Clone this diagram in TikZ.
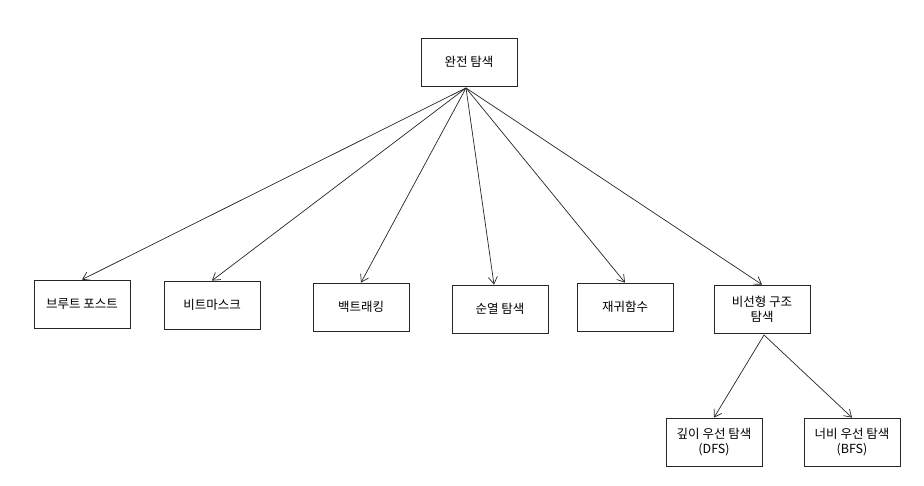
\documentclass[tikz,border=0pt]{standalone}
\usepackage{fontspec}
\setmainfont{Noto Sans CJK KR}
\usetikzlibrary{arrows.meta}
\begin{document}
\begin{tikzpicture}[x=1pt,y=-1pt,
  box/.style={draw=black!85,line width=0.8pt,minimum width=96pt,minimum height=48pt,inner sep=2pt,align=center,font=\fontsize{12.5}{15}\selectfont},
  conn/.style={draw=black!85,line width=0.7pt,-{Straight Barb[length=7pt,width=9pt]}}]
\fill[white] (0,0) rectangle (924,486);
\useasboundingbox (0,0) rectangle (924,486);
\node[box] (root) at (469,62) {완전 탐색};
\node[box] (bf) at (82,304) {브루트 포스트};
\node[box] (bm) at (212,305) {비트마스크};
\node[box] (bt) at (361,307) {백트래킹};
\node[box] (perm) at (500,309) {순열 탐색};
\node[box] (rec) at (625,307) {재귀함수};
\node[box] (nl) at (762,309) {비선형 구조\\탐색};
\node[box] (dfs) at (714,442) {깊이 우선 탐색\\(DFS)};
\node[box] (bfs) at (852,442) {너비 우선 탐색\\(BFS)};
\coordinate (rb) at (466,88);
\coordinate (nb) at (764,335);
\draw[conn] (rb) -- (bf.north);
\draw[conn] (rb) -- (bm.north);
\draw[conn] (rb) -- (bt.north);
\draw[conn] (rb) -- ([xshift=-6pt]perm.north);
\draw[conn] (rb) -- (rec.north);
\draw[conn] (rb) -- (nl.north);
\draw[conn] (nb) -- (dfs.north);
\draw[conn] (nb) -- (bfs.north);
\end{tikzpicture}
\end{document}
